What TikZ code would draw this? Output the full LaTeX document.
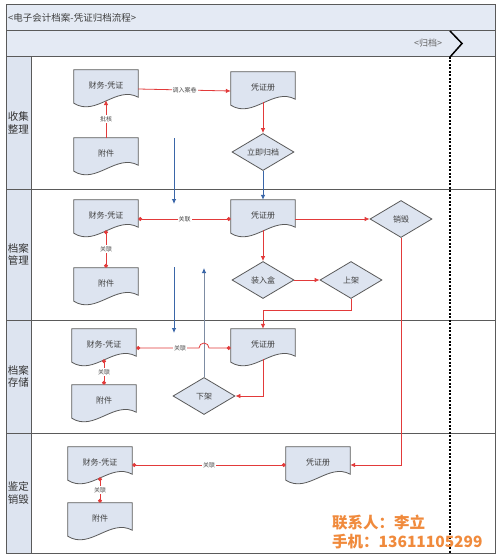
\documentclass[tikz,border=0pt]{standalone}
\usepackage{fontspec}
\newfontfamily\cjk{Noto Sans CJK SC}
\usetikzlibrary{shapes.geometric,arrows.meta,backgrounds}
\definecolor{nodefill}{HTML}{DDE4F0}
\definecolor{bandfill}{HTML}{E4EAF4}
\definecolor{edgec}{HTML}{5A5A5A}
\definecolor{redl}{HTML}{E23A3A}
\definecolor{bluel}{HTML}{3A66A8}
\definecolor{greyl}{HTML}{7D8CA3}
\definecolor{contact}{HTML}{F08A3C}
\newcommand\docshape[1]{%
  \path[fill=nodefill, draw=edgec, line width=0.8pt]
    (#1.north west) -- (#1.north east) -- ([yshift=3pt]#1.south east)
    .. controls ([xshift=-22pt,yshift=15pt]#1.south east) and ([xshift=22pt,yshift=-17pt]#1.south west) ..
    ([yshift=-3pt]#1.south west) -- cycle;}
\begin{document}
\begin{tikzpicture}[x=1pt,y=-1pt,
  font=\cjk\fontsize{8}{9.6}\selectfont,
  docnode/.style={minimum width=64pt, minimum height=30pt, inner sep=0pt, text=black!75},
  dia/.style={diamond, draw=edgec, fill=nodefill, line width=0.8pt, minimum width=62pt, minimum height=37pt, inner sep=0pt, aspect=1.7, text=black!75},
  redarrow/.style={draw=redl, line width=0.8pt, -{Latex[length=5pt,width=4.5pt]}},
  redlink/.style={draw=redl, line width=0.8pt, {Circle[length=4pt]}-{Circle[length=4pt]}},
  bluearrow/.style={draw=bluel, line width=0.8pt, -{Latex[length=5pt,width=4.5pt]}},
  lbl/.style={fill=white, inner sep=1pt, font=\cjk\fontsize{6}{7}\selectfont, text=black!70},
  lanelbl/.style={align=center, font=\cjk\fontsize{10.5}{12.5}\selectfont, text=black!80},
]
\useasboundingbox (0,0) rectangle (500,559);
% frame lines
\draw[edgec, line width=1pt] (6,5) rectangle (495,553);
\draw[edgec, line width=0.8pt] (6,30) -- (495,30);
\draw[edgec, line width=1pt] (6,57) -- (495,57);
\draw[edgec, line width=1pt] (31,57) -- (31,553);
\draw[edgec, line width=1pt] (6,189) -- (495,189);
\draw[edgec, line width=1pt] (6,320) -- (495,320);
\draw[edgec, line width=1pt] (6,433) -- (495,433);
\node[anchor=west, font=\cjk\fontsize{9.5}{11}\selectfont, text=black!75, inner sep=0pt] (title) at (8,17.5) {<电子会计档案-凭证归档流程>};
\node[font=\cjk\fontsize{9}{11}\selectfont, text=black!60, inner sep=0pt] (phase) at (428,43.5) {<归档>};
\draw[black, line width=1.5pt] (450,31) -- (462,43.5) -- (450,57);
\draw[black, line width=1.5pt, dash pattern=on 2pt off 1.5pt] (450,57) -- (450,553);
% lane labels
\node[lanelbl] (l1) at (18.5,123) {收集\\整理};
\node[lanelbl] (l2) at (18.5,254.5) {档案\\管理};
\node[lanelbl] (l3) at (18.5,376.5) {档案\\存储};
\node[lanelbl] (l4) at (18.5,493) {鉴定\\销毁};
% lane 1
\node[docnode] (a1) at (106,85) {财务-凭证};
\node[docnode] (b1) at (106,153) {附件};
\node[docnode] (c1) at (263,87) {凭证册};
\node[dia] (d1) at (263,152) {立即归档};
% lane 2
\node[docnode] (a2) at (106,215) {财务-凭证};
\node[docnode] (b2) at (106,283) {附件};
\node[docnode] (c2) at (263,215) {凭证册};
\node[dia] (e2) at (401,219) {销毁};
\node[dia] (f2) at (263,280) {装入盒};
\node[dia] (g2) at (351,280) {上架};
% lane 3
\node[docnode] (a3) at (104,344) {财务-凭证};
\node[docnode] (b3) at (104,400) {附件};
\node[docnode] (c3) at (263,344) {凭证册};
\node[dia] (h3) at (204,396) {下架};
% lane 4
\node[docnode] (a4) at (100,462) {财务-凭证};
\node[docnode] (b4) at (100,518) {附件};
\node[docnode] (c4) at (318,462) {凭证册};
\begin{scope}[on background layer]
\fill[white] (0,0) rectangle (500,559);
\fill[bandfill] (6,5) rectangle (495,57);
\fill[nodefill] (6,57) rectangle (31,553);
\foreach \n in {a1,b1,c1,a2,b2,c2,a3,b3,c3,a4,b4,c4} {\docshape{\n}}
\end{scope}
% free coordinates
\coordinate (p1) at (174,138);
\coordinate (p2) at (174,204);
\coordinate (p3) at (174,267);
\coordinate (p4) at (174,333);
\coordinate (p5) at (204,268);
% connectors lane 1
\draw[redarrow] ([yshift=-4pt]a1.east) -- node[lbl]{调入案卷} ([yshift=-4pt]c1.west);
\draw[redarrow] (b1.north) -- node[lbl]{批核} (a1.south);
\draw[redarrow] (c1.south) -- (d1.north);
\draw[bluearrow] (d1.south) -- (c2.north);
\draw[bluearrow] (p1) -- (p2);
\draw[bluearrow] (p3) -- (p4);
\draw[draw=greyl, line width=0.8pt, -{Latex[length=5pt,width=4.5pt,color=bluel]}] (h3.north) -- (p5);
% lane 2
\draw[redlink] ([yshift=-4pt]a2.east) -- node[lbl]{关联} ([yshift=-4pt]c2.west);
\draw[redlink] (b2.north) -- node[lbl]{关联} (a2.south);
\draw[redarrow] ([yshift=-4pt]c2.east) -- (e2.west);
\draw[redarrow] (c2.south) -- (f2.north);
\draw[redarrow] (f2.east) -- (g2.west);
\draw[redarrow] (g2.south) -- ++(0,11) -| (c3.north);
\draw[redarrow] (e2.south) |- ([yshift=-3pt]c4.east);
% lane 3
\draw[redlink] ([yshift=-4pt]a3.east) -- node[lbl, pos=0.7]{关联} (199,348) arc[start angle=180, end angle=360, radius=5] -- ([yshift=-4pt]c3.west);
\draw[redlink] (b3.north) -- node[lbl]{关联} (a3.south);
\draw[redarrow] (c3.south) |- (h3.east);
% lane 4
\draw[redlink] ([yshift=-3pt]a4.east) -- node[lbl]{关联} ([yshift=-3pt]c4.west);
\draw[redlink] (b4.north) -- node[lbl]{关联} (a4.south);
% contact
\node[anchor=west, inner sep=0pt, text=contact, font=\cjk\bfseries\fontsize{15.5}{18}\selectfont] (ct1) at (332,523) {联系人：李立};
\node[anchor=west, inner sep=0pt, text=contact, font=\cjk\bfseries\fontsize{15.5}{18}\selectfont] (ct2) at (332,542) {手机：13611105299};
\end{tikzpicture}
\end{document}
